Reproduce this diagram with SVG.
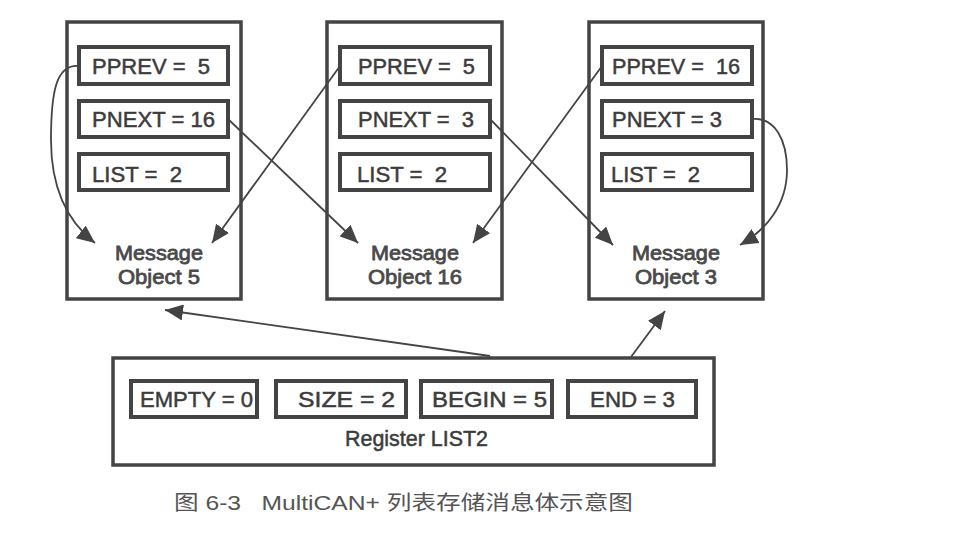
<svg xmlns="http://www.w3.org/2000/svg" width="978" height="536" viewBox="0 0 978 536">
<style>
.outer{fill:#fff;stroke:#444;stroke-width:3.5}
.field{fill:#fff;stroke:#444;stroke-width:4}
.t{font-family:"Liberation Sans",Arial,sans-serif;font-size:22px;fill:#3c3c3c;stroke:#3c3c3c;stroke-width:0.5}
.m{font-family:"Liberation Sans",Arial,sans-serif;font-size:21px;fill:#4a4a4a;stroke:#4a4a4a;stroke-width:0.8;text-anchor:middle}
.c{stroke:#444;stroke-width:1.8;fill:none;marker-end:url(#ah)}
.cap{font-family:"Liberation Sans","Noto Sans CJK SC",sans-serif;font-size:20px;fill:#555}
</style>
<defs>
<marker id="ah" markerUnits="userSpaceOnUse" markerWidth="20" markerHeight="16" refX="18" refY="8" orient="auto">
<path d="M0,0 L18,8 L0,16 Z" fill="#444"/>
</marker>
</defs>
<rect width="978" height="536" fill="#fff"/>
<g id="obj5">
<rect class="outer" x="67" y="22" width="174" height="277"/>
<rect class="field" x="79" y="47" width="149" height="37"/>
<rect class="field" x="79" y="101" width="149" height="36"/>
<rect class="field" x="79" y="154" width="149" height="36"/>
<text class="t" x="92" y="74" xml:space="preserve" textLength="118" lengthAdjust="spacingAndGlyphs">PPREV =  5</text>
<text class="t" x="92" y="127" textLength="123" lengthAdjust="spacingAndGlyphs">PNEXT = 16</text>
<text class="t" x="92" y="182" xml:space="preserve" textLength="90" lengthAdjust="spacingAndGlyphs">LIST =  2</text>
<text class="m" x="159" y="260" textLength="88" lengthAdjust="spacingAndGlyphs">Message</text>
<text class="m" x="159" y="284" textLength="82" lengthAdjust="spacingAndGlyphs">Object 5</text>
</g>
<g id="obj16">
<rect class="outer" x="327" y="22" width="175" height="277"/>
<rect class="field" x="340" y="47" width="150" height="37"/>
<rect class="field" x="340" y="101" width="150" height="36"/>
<rect class="field" x="340" y="154" width="150" height="36"/>
<text class="t" x="358" y="74" xml:space="preserve" textLength="117" lengthAdjust="spacingAndGlyphs">PPREV =  5</text>
<text class="t" x="358" y="127" xml:space="preserve" textLength="116" lengthAdjust="spacingAndGlyphs">PNEXT =  3</text>
<text class="t" x="357" y="182" xml:space="preserve" textLength="90" lengthAdjust="spacingAndGlyphs">LIST =  2</text>
<text class="m" x="415" y="260" textLength="88" lengthAdjust="spacingAndGlyphs">Message</text>
<text class="m" x="415" y="284" textLength="94" lengthAdjust="spacingAndGlyphs">Object 16</text>
</g>
<g id="obj3">
<rect class="outer" x="589" y="22" width="174" height="277"/>
<rect class="field" x="602" y="47" width="150" height="37"/>
<rect class="field" x="602" y="101" width="150" height="36"/>
<rect class="field" x="602" y="154" width="150" height="36"/>
<text class="t" x="612" y="74" xml:space="preserve" textLength="128" lengthAdjust="spacingAndGlyphs">PPREV =  16</text>
<text class="t" x="612" y="127" textLength="110" lengthAdjust="spacingAndGlyphs">PNEXT = 3</text>
<text class="t" x="611" y="182" xml:space="preserve" textLength="89" lengthAdjust="spacingAndGlyphs">LIST =  2</text>
<text class="m" x="676" y="260" textLength="88" lengthAdjust="spacingAndGlyphs">Message</text>
<text class="m" x="676" y="284" textLength="82" lengthAdjust="spacingAndGlyphs">Object 3</text>
</g>
<g id="list2">
<rect class="outer" x="113" y="358" width="601" height="107"/>
<rect class="field" x="131" y="381" width="126" height="36"/>
<rect class="field" x="276" y="381" width="130" height="36"/>
<rect class="field" x="421" y="381" width="131" height="36"/>
<rect class="field" x="568" y="381" width="128" height="36"/>
<text class="t" x="140" y="407" textLength="113" lengthAdjust="spacingAndGlyphs">EMPTY = 0</text>
<text class="t" x="298" y="407" textLength="97" lengthAdjust="spacingAndGlyphs">SIZE = 2</text>
<text class="t" x="432" y="407" textLength="115" lengthAdjust="spacingAndGlyphs">BEGIN = 5</text>
<text class="t" x="590" y="407" textLength="85" lengthAdjust="spacingAndGlyphs">END = 3</text>
<text class="t" x="345" y="446" textLength="143" lengthAdjust="spacingAndGlyphs">Register LIST2</text>
</g>
<g id="connectors">
<path class="c" d="M79,66 C56,64 51,92 51,140 C51,190 68,222 95,243"/>
<path class="c" d="M228,119 L358,243"/>
<path class="c" d="M340,66 L212,243"/>
<path class="c" d="M490,119 L613,245"/>
<path class="c" d="M602,66 L473,243"/>
<path class="c" d="M752,119 C775,117 787,140 787,170 C787,205 766,230 740,245"/>
<path class="c" d="M490,356 L165,310"/>
<path class="c" d="M631,357 L665,311"/>
</g>
<text class="cap" x="174" y="510" xml:space="preserve" textLength="459" lengthAdjust="spacingAndGlyphs">图 6-3   MultiCAN+ 列表存储消息体示意图</text>
</svg>
